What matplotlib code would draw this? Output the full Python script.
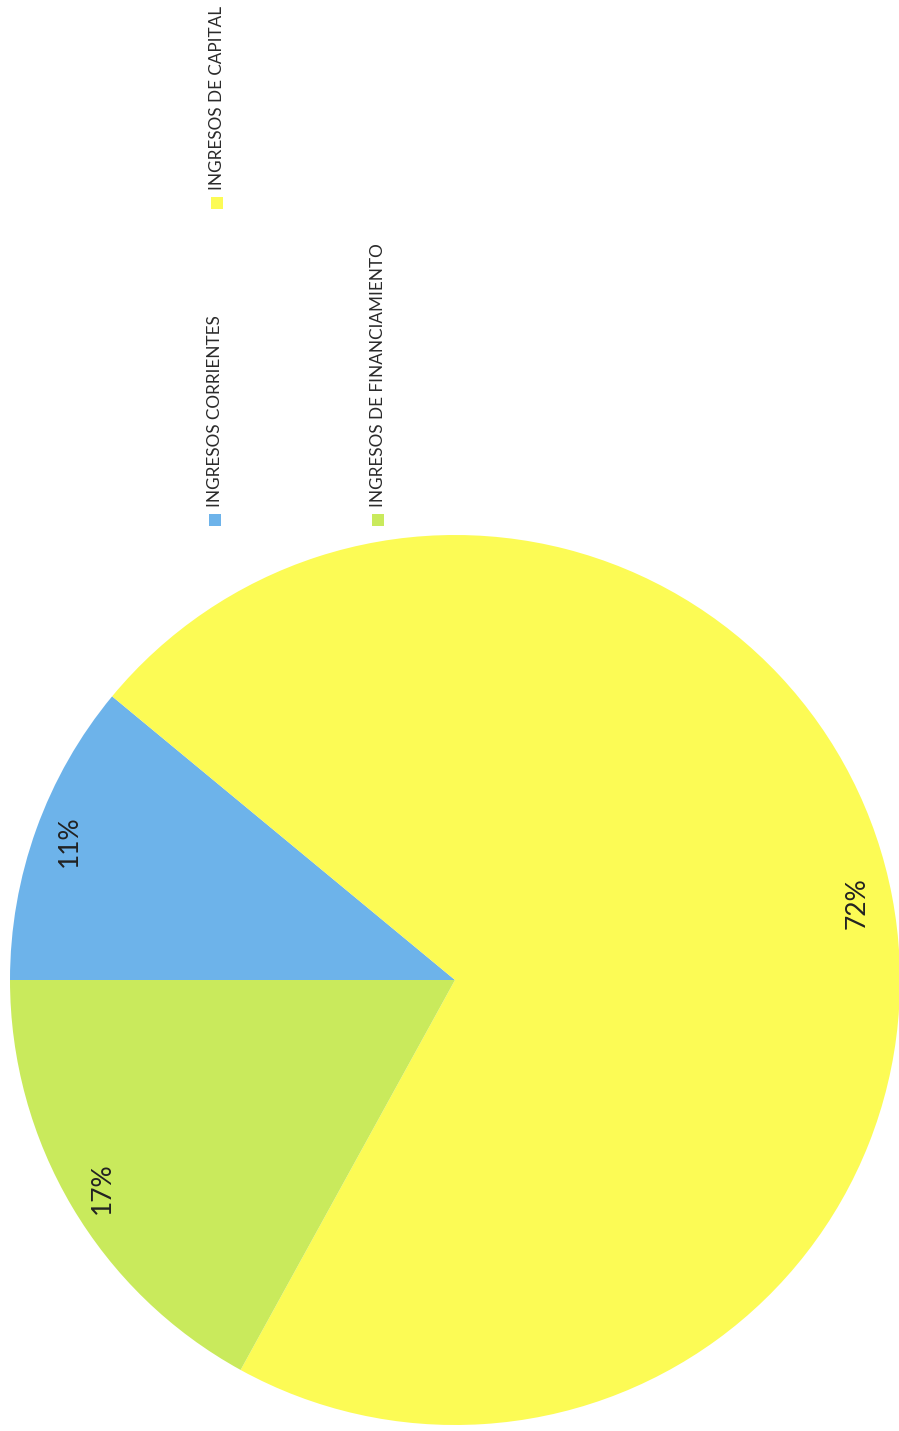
import matplotlib.pyplot as plt
from matplotlib.patches import Rectangle

categorias = ["INGRESOS CORRIENTES", "INGRESOS DE CAPITAL", "INGRESOS DE FINANCIAMIENTO"]
porcentajes = [11, 72, 17]
colores = ["#6db3ea", "#fcfb55", "#c9ea5c"]

plt.rcParams['font.family'] = ['Lato', 'DejaVu Sans']

W, H = 899, 1431
fig = plt.figure(figsize=(W / 100, H / 100), dpi=100)

# pie: center (455, 980) px from top-left, radius 445 px
cx, cy, r = 455, 980, 445
ax = fig.add_axes([(cx - r) / W, (H - cy - r) / H, 2 * r / W, 2 * r / H])
wedges, texts, autotexts = ax.pie(porcentajes, colors=colores, startangle=180,
                                  counterclock=False, radius=1.0,
                                  autopct='%1.0f%%', pctdistance=0.92,
                                  textprops=dict(rotation=90, fontsize=19, color='#222222'))
ax.set_xlim(-1, 1)
ax.set_ylim(-1, 1)
ax.axis('off')

# legend, rotated like the rest of the scan
leg_x = [215, 217, 378]   # px from left
leg_y = [520, 203, 520]   # px from top (marker centre)
sq = 12
for lab, col, x, y in zip(categorias, colores, leg_x, leg_y):
    fig.add_artist(Rectangle(((x - sq / 2) / W, (H - y - sq / 2) / H), sq / W, sq / H,
                             transform=fig.transFigure, facecolor=col, edgecolor='none'))
    fig.text(x / W, (H - y + 13) / H, lab, rotation=90, ha='center', va='bottom',
             fontsize=12.3, color='#2a2a2a')

fig.savefig("out.png", dpi=100, facecolor='white')
